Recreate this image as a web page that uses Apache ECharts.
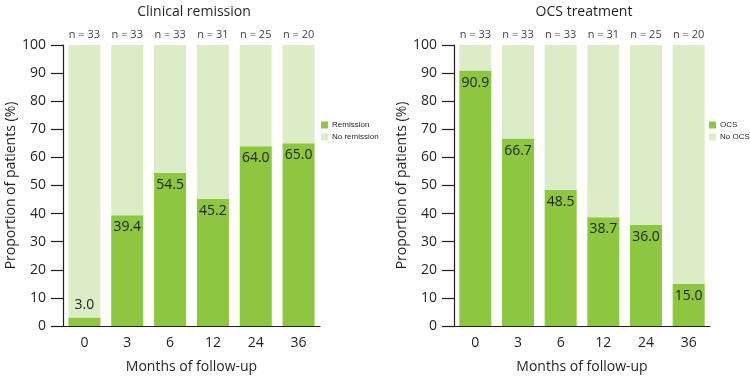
<!DOCTYPE html>
<html>
<head>
<meta charset="utf-8">
<script src="https://cdn.jsdelivr.net/npm/echarts@6/dist/echarts.min.js"></script>
<style>html,body{margin:0;padding:0;background:#fff}#c{width:750px;height:379px}</style>
</head>
<body>
<div id="c"></div>
<script>
const months = ['0', '3', '6', '12', '24', '36'];
const nCounts = [33, 33, 33, 31, 25, 20];
const remission = [3.0, 39.4, 54.5, 45.2, 64.0, 65.0];
const noRemission = [97.0, 60.6, 45.5, 54.8, 36.0, 35.0];
const ocs = [90.9, 66.7, 48.5, 38.7, 36.0, 15.0];
const noOcs = [9.1, 33.3, 51.5, 61.3, 64.0, 85.0];
const yTicks = [0, 10, 20, 30, 40, 50, 60, 70, 80, 90, 100];

const FONT = 'Open Sans, Noto Sans, sans-serif';
const NARROW = 'Liberation Sans Narrow, Liberation Sans, sans-serif';
const DARK = '#8dc63f';
const LIGHT = '#dbecc6';
const TXT = '#231f20';

function valueData(arr) {
  return arr.map(v => ({
    value: v,
    label: v < 10 ? { position: 'top', distance: 6 } : {}
  }));
}
function topData(arr) { return arr.map(v => ({ value: v })); }

function xAxis(idx) {
  return {
    type: 'category', gridIndex: idx, data: months,
    axisLine: { lineStyle: { color: TXT, width: 1.2 } },
    axisTick: { show: false },
    axisLabel: { color: TXT, fontSize: 14, margin: 10, fontFamily: FONT },
    name: 'Months of follow-up', nameLocation: 'middle', nameGap: 34,
    nameTextStyle: { color: TXT, fontSize: 14, fontFamily: FONT }
  };
}
function yAxis(idx) {
  return {
    type: 'value', gridIndex: idx, min: 0, max: 100, interval: 10,
    axisLine: { show: true, lineStyle: { color: TXT, width: 1.2 } },
    axisTick: { show: true, inside: false, length: 12, lineStyle: { color: TXT, width: 1.2 } },
    splitLine: { show: false },
    axisLabel: { color: TXT, fontSize: 14, margin: 17, fontFamily: FONT,
      formatter: v => yTicks.includes(v) ? String(v) : '' },
    name: 'Proportion of patients (%)', nameLocation: 'middle', nameGap: 44,
    nameTextStyle: { color: TXT, fontSize: 14, fontFamily: FONT }
  };
}
function lowerSeries(name, data, idx) {
  return {
    name, type: 'bar', stack: 's' + idx, xAxisIndex: idx, yAxisIndex: idx,
    barWidth: 32, data: valueData(data),
    itemStyle: { color: DARK },
    label: { show: true, position: 'insideTop', distance: 5, color: TXT, fontSize: 14,
      fontFamily: FONT, formatter: p => p.value.toFixed(1) }
  };
}
function upperSeries(name, data, idx) {
  return {
    name, type: 'bar', stack: 's' + idx, xAxisIndex: idx, yAxisIndex: idx,
    barWidth: 32, data: topData(data),
    itemStyle: { color: LIGHT },
    label: { show: true, position: 'top', distance: 5, color: '#444', fontSize: 11,
      fontFamily: FONT, formatter: p => 'n = ' + nCounts[p.dataIndex] }
  };
}

const chart = echarts.init(document.getElementById('c'), null, { renderer: 'canvas' });
chart.setOption({
  animation: false,
  title: [
    { text: 'Clinical remission', left: 189, top: 0, textAlign: 'center',
      textStyle: { color: TXT, fontSize: 14, fontWeight: 'normal', fontFamily: FONT } },
    { text: 'OCS treatment', left: 579, top: 0, textAlign: 'center',
      textStyle: { color: TXT, fontSize: 14, fontWeight: 'normal', fontFamily: FONT } }
  ],
  legend: [
    { data: ['Remission', 'No remission'], orient: 'vertical', left: 321, top: 121,
      itemWidth: 7, itemHeight: 7, itemGap: 4, icon: 'rect', padding: 0,
      textStyle: { color: TXT, fontSize: 8, fontFamily: NARROW, padding: [0, 0, 0, -1] } },
    { data: ['OCS', 'No OCS'], orient: 'vertical', left: 709, top: 121,
      itemWidth: 7, itemHeight: 7, itemGap: 4, icon: 'rect', padding: 0,
      textStyle: { color: TXT, fontSize: 8, fontFamily: NARROW, padding: [0, 0, 0, -1] } }
  ],
  grid: [
    { left: 63, top: 45, width: 257, height: 284 },
    { left: 454, top: 45, width: 256, height: 284 }
  ],
  xAxis: [xAxis(0), xAxis(1)],
  yAxis: [yAxis(0), yAxis(1)],
  series: [
    lowerSeries('Remission', remission, 0),
    upperSeries('No remission', noRemission, 0),
    lowerSeries('OCS', ocs, 1),
    upperSeries('No OCS', noOcs, 1)
  ]
});
</script>
</body>
</html>
